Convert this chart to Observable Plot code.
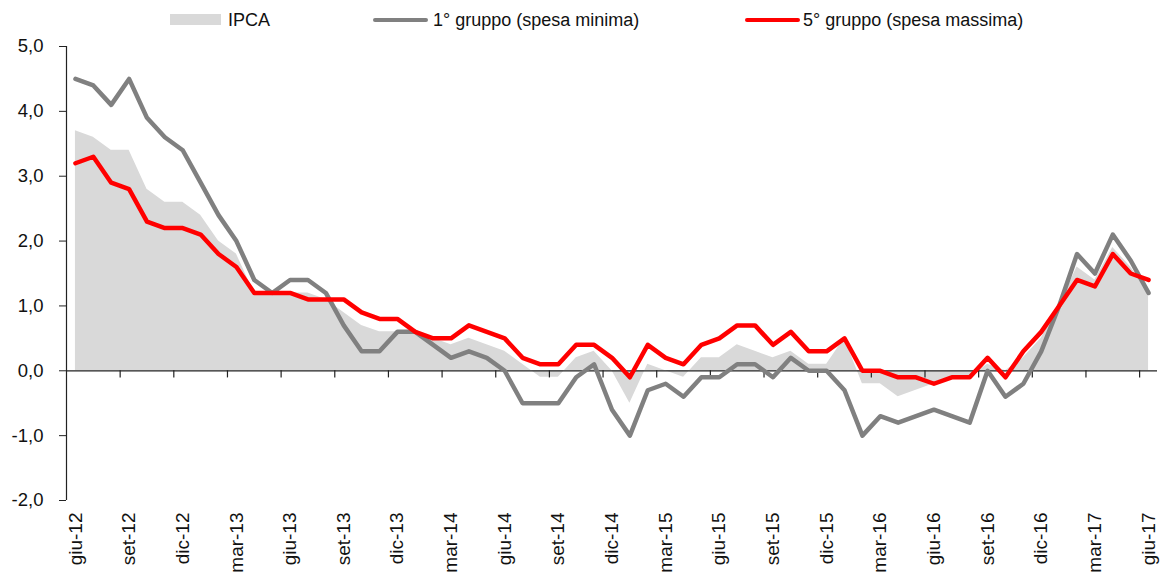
<!DOCTYPE html>
<html>
<head>
<meta charset="utf-8">
<script src="https://cdn.jsdelivr.net/npm/d3@7"></script>
<script src="https://cdn.jsdelivr.net/npm/@observablehq/plot@0.6"></script>
<style>
  body { margin: 0; background: #fff; font-family: "Liberation Sans", Arial, sans-serif; }
  #legend { position: relative; width: 1173px; height: 36px; font-size: 18px; color: #111; }
  #legend .sw { position: absolute; }
  #legend .lb { position: absolute; top: 8px; line-height: 24px; white-space: nowrap; }
</style>
</head>
<body>
<div id="legend"></div>
<div id="chart"></div>
<script>
const months = ["giu-12","lug-12","ago-12","set-12","ott-12","nov-12","dic-12","gen-13","feb-13","mar-13","apr-13","mag-13",
  "giu-13","lug-13","ago-13","set-13","ott-13","nov-13","dic-13","gen-14","feb-14","mar-14","apr-14","mag-14",
  "giu-14","lug-14","ago-14","set-14","ott-14","nov-14","dic-14","gen-15","feb-15","mar-15","apr-15","mag-15",
  "giu-15","lug-15","ago-15","set-15","ott-15","nov-15","dic-15","gen-16","feb-16","mar-16","apr-16","mag-16",
  "giu-16","lug-16","ago-16","set-16","ott-16","nov-16","dic-16","gen-17","feb-17","mar-17","apr-17","mag-17","giu-17"];

const ipca = [3.7,3.6,3.4,3.4,2.8,2.6,2.6,2.4,2.0,1.8,1.2,1.2,1.2,1.2,1.1,0.9,0.7,0.6,0.6,0.6,0.5,0.4,0.5,0.4,
  0.3,0.1,-0.1,-0.1,0.2,0.3,0.0,-0.5,0.1,0.0,-0.1,0.2,0.2,0.4,0.3,0.2,0.3,0.1,0.1,0.5,-0.2,-0.2,-0.4,-0.3,
  -0.2,-0.1,-0.1,0.1,0.0,0.2,0.5,1.0,1.6,1.4,1.9,1.6,1.2];

const gruppo1 = [4.5,4.4,4.1,4.5,3.9,3.6,3.4,2.9,2.4,2.0,1.4,1.2,1.4,1.4,1.2,0.7,0.3,0.3,0.6,0.6,0.4,0.2,0.3,0.2,
  0.0,-0.5,-0.5,-0.5,-0.1,0.1,-0.6,-1.0,-0.3,-0.2,-0.4,-0.1,-0.1,0.1,0.1,-0.1,0.2,0.0,0.0,-0.3,-1.0,-0.7,-0.8,-0.7,
  -0.6,-0.7,-0.8,0.0,-0.4,-0.2,0.3,1.0,1.8,1.5,2.1,1.7,1.2];

const gruppo5 = [3.2,3.3,2.9,2.8,2.3,2.2,2.2,2.1,1.8,1.6,1.2,1.2,1.2,1.1,1.1,1.1,0.9,0.8,0.8,0.6,0.5,0.5,0.7,0.6,
  0.5,0.2,0.1,0.1,0.4,0.4,0.2,-0.1,0.4,0.2,0.1,0.4,0.5,0.7,0.7,0.4,0.6,0.3,0.3,0.5,0.0,0.0,-0.1,-0.1,
  -0.2,-0.1,-0.1,0.2,-0.1,0.3,0.6,1.0,1.4,1.3,1.8,1.5,1.4];

const yTicks = [-2,-1,0,1,2,3,4,5];
const seriesNames = ["IPCA", "1° gruppo (spesa minima)", "5° gruppo (spesa massima)"];
const colors = ["#d9d9d9", "#808080", "#ff0000"];

const data = months.map((m, i) => ({i, m, ipca: ipca[i], g1: gruppo1[i], g5: gruppo5[i]}));
const labelIdx = d3.range(0, months.length, 3);
const tickPos = d3.range(2.5, months.length - 0.5, 3);

// legend
const legend = document.getElementById("legend");
const legItems = [
  {kind: "rect", x: 170, w: 51, tx: 228},
  {kind: "line", x: 373, w: 55, tx: 433},
  {kind: "line", x: 745, w: 55, tx: 803}
];
legItems.forEach((it, k) => {
  const sw = document.createElement("div");
  sw.className = "sw";
  sw.style.left = it.x + "px";
  sw.style.width = it.w + "px";
  if (it.kind === "rect") { sw.style.top = "14px"; sw.style.height = "11px"; }
  else { sw.style.top = "18px"; sw.style.height = "4px"; sw.style.borderRadius = "2px"; }
  sw.style.background = colors[k];
  legend.appendChild(sw);
  const lb = document.createElement("div");
  lb.className = "lb";
  lb.style.left = it.tx + "px";
  lb.textContent = seriesNames[k];
  legend.appendChild(lb);
});

const fmt = d => d.toFixed(1).replace(".", ",");

const chart = Plot.plot({
  width: 1173,
  height: 540,
  marginLeft: 66,
  marginRight: 16,
  marginTop: 10,
  marginBottom: 76,
  style: {fontFamily: '"Liberation Sans", Arial, sans-serif', fontSize: "18px", color: "#111", background: "#fff"},
  x: {domain: [-0.5, months.length - 0.5]},
  y: {domain: [-2, 5]},
  marks: [
    Plot.areaY(data, {x: "i", y: "ipca", fill: colors[0]}),
    Plot.ruleY([0], {stroke: "#222", strokeWidth: 1.2}),
    Plot.ruleX(tickPos, {y1: 0, y2: -0.11, stroke: "#222", strokeWidth: 1.2}),
    Plot.ruleX([-0.5], {stroke: "#222", strokeWidth: 1.2}),
    Plot.line(data, {x: "i", y: "g1", stroke: colors[1], strokeWidth: 4.5, strokeLinejoin: "round"}),
    Plot.line(data, {x: "i", y: "g5", stroke: colors[2], strokeWidth: 4.5, strokeLinejoin: "round"}),
    Plot.axisY({ticks: yTicks, tickFormat: fmt, tickSize: 7, tickPadding: 16, label: null, stroke: "#222", fontSize: 18.5}),
    Plot.axisX({ticks: labelIdx, tickFormat: i => months[i], tickRotate: -90, tickSize: 0, tickPadding: 12, label: null, fontSize: 19})
  ]
});
document.getElementById("chart").appendChild(chart);
</script>
</body>
</html>
